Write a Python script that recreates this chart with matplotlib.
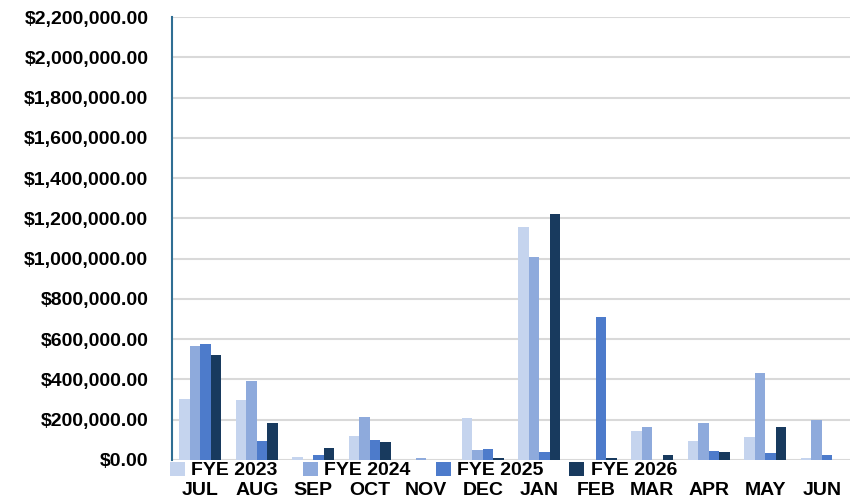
import matplotlib.pyplot as plt
import numpy as np
from matplotlib.ticker import FuncFormatter

months = ["JUL", "AUG", "SEP", "OCT", "NOV", "DEC", "JAN", "FEB", "MAR", "APR", "MAY", "JUN"]
series_names = ["FYE 2023", "FYE 2024", "FYE 2025", "FYE 2026"]

fye_2023 = [305000, 300000, 15000, 118000, 0, 210000, 1158000, 0, 142000, 92000, 112000, 8000]
fye_2024 = [568000, 392000, -5000, 212000, 8000, 52000, 1010000, 0, 165000, 182000, 430000, 197000]
fye_2025 = [575000, 95000, 23000, 98000, 0, 55000, 42000, 710000, 0, 45000, 33000, 25000]
fye_2026 = [520000, 185000, 58000, 87000, 0, 12000, 1222000, 8000, 25000, 40000, 165000, 0]

colors = ["#C5D4EE", "#8EAADC", "#4D7BCB", "#183A5E"]

plt.rcParams['font.family'] = ['Liberation Sans', 'DejaVu Sans']
plt.rcParams['font.weight'] = 'bold'

fig = plt.figure(figsize=(8.5, 5.03), dpi=100)
ax = fig.add_axes([172 / 850, 43 / 503, 678 / 850, 443 / 503])

x = np.arange(len(months))
width = 0.185
all_series = [fye_2023, fye_2024, fye_2025, fye_2026]
for i, (vals, name) in enumerate(zip(all_series, series_names)):
    ax.bar(x + (i - 1.5) * width, vals, width, color=colors[i], label=name, zorder=3)

ax.set_xlim(-0.5, len(months) - 0.5)
ax.set_ylim(0, 2200000)
ax.set_yticks(np.arange(0, 2200001, 200000))
ax.yaxis.set_major_formatter(FuncFormatter(lambda v, p: "${:,.2f}".format(v)))
ax.grid(axis='y', color='#D9D9D9', linewidth=1.5, zorder=0)
ax.set_axisbelow(True)

ax.set_xticks(x)
ax.set_xticklabels(months)
ax.tick_params(axis='x', length=0, pad=16, labelsize=14)
ax.tick_params(axis='y', length=0, pad=17, labelsize=14)
for lbl in ax.get_xticklabels() + ax.get_yticklabels():
    lbl.set_fontweight('bold')

for s in ['top', 'right', 'bottom']:
    ax.spines[s].set_visible(False)
ax.spines['left'].set_color('#2F6E93')
ax.spines['left'].set_linewidth(1.5)

fig.legend(loc='center left', bbox_to_anchor=(170 / 850, 1 - 470.5 / 503), ncol=4,
           frameon=False, handlelength=0.75, handleheight=0.75,
           handletextpad=0.35, columnspacing=1.3, borderpad=0, borderaxespad=0,
           prop={'weight': 'bold', 'size': 14})

plt.savefig("out.png", dpi=100)
